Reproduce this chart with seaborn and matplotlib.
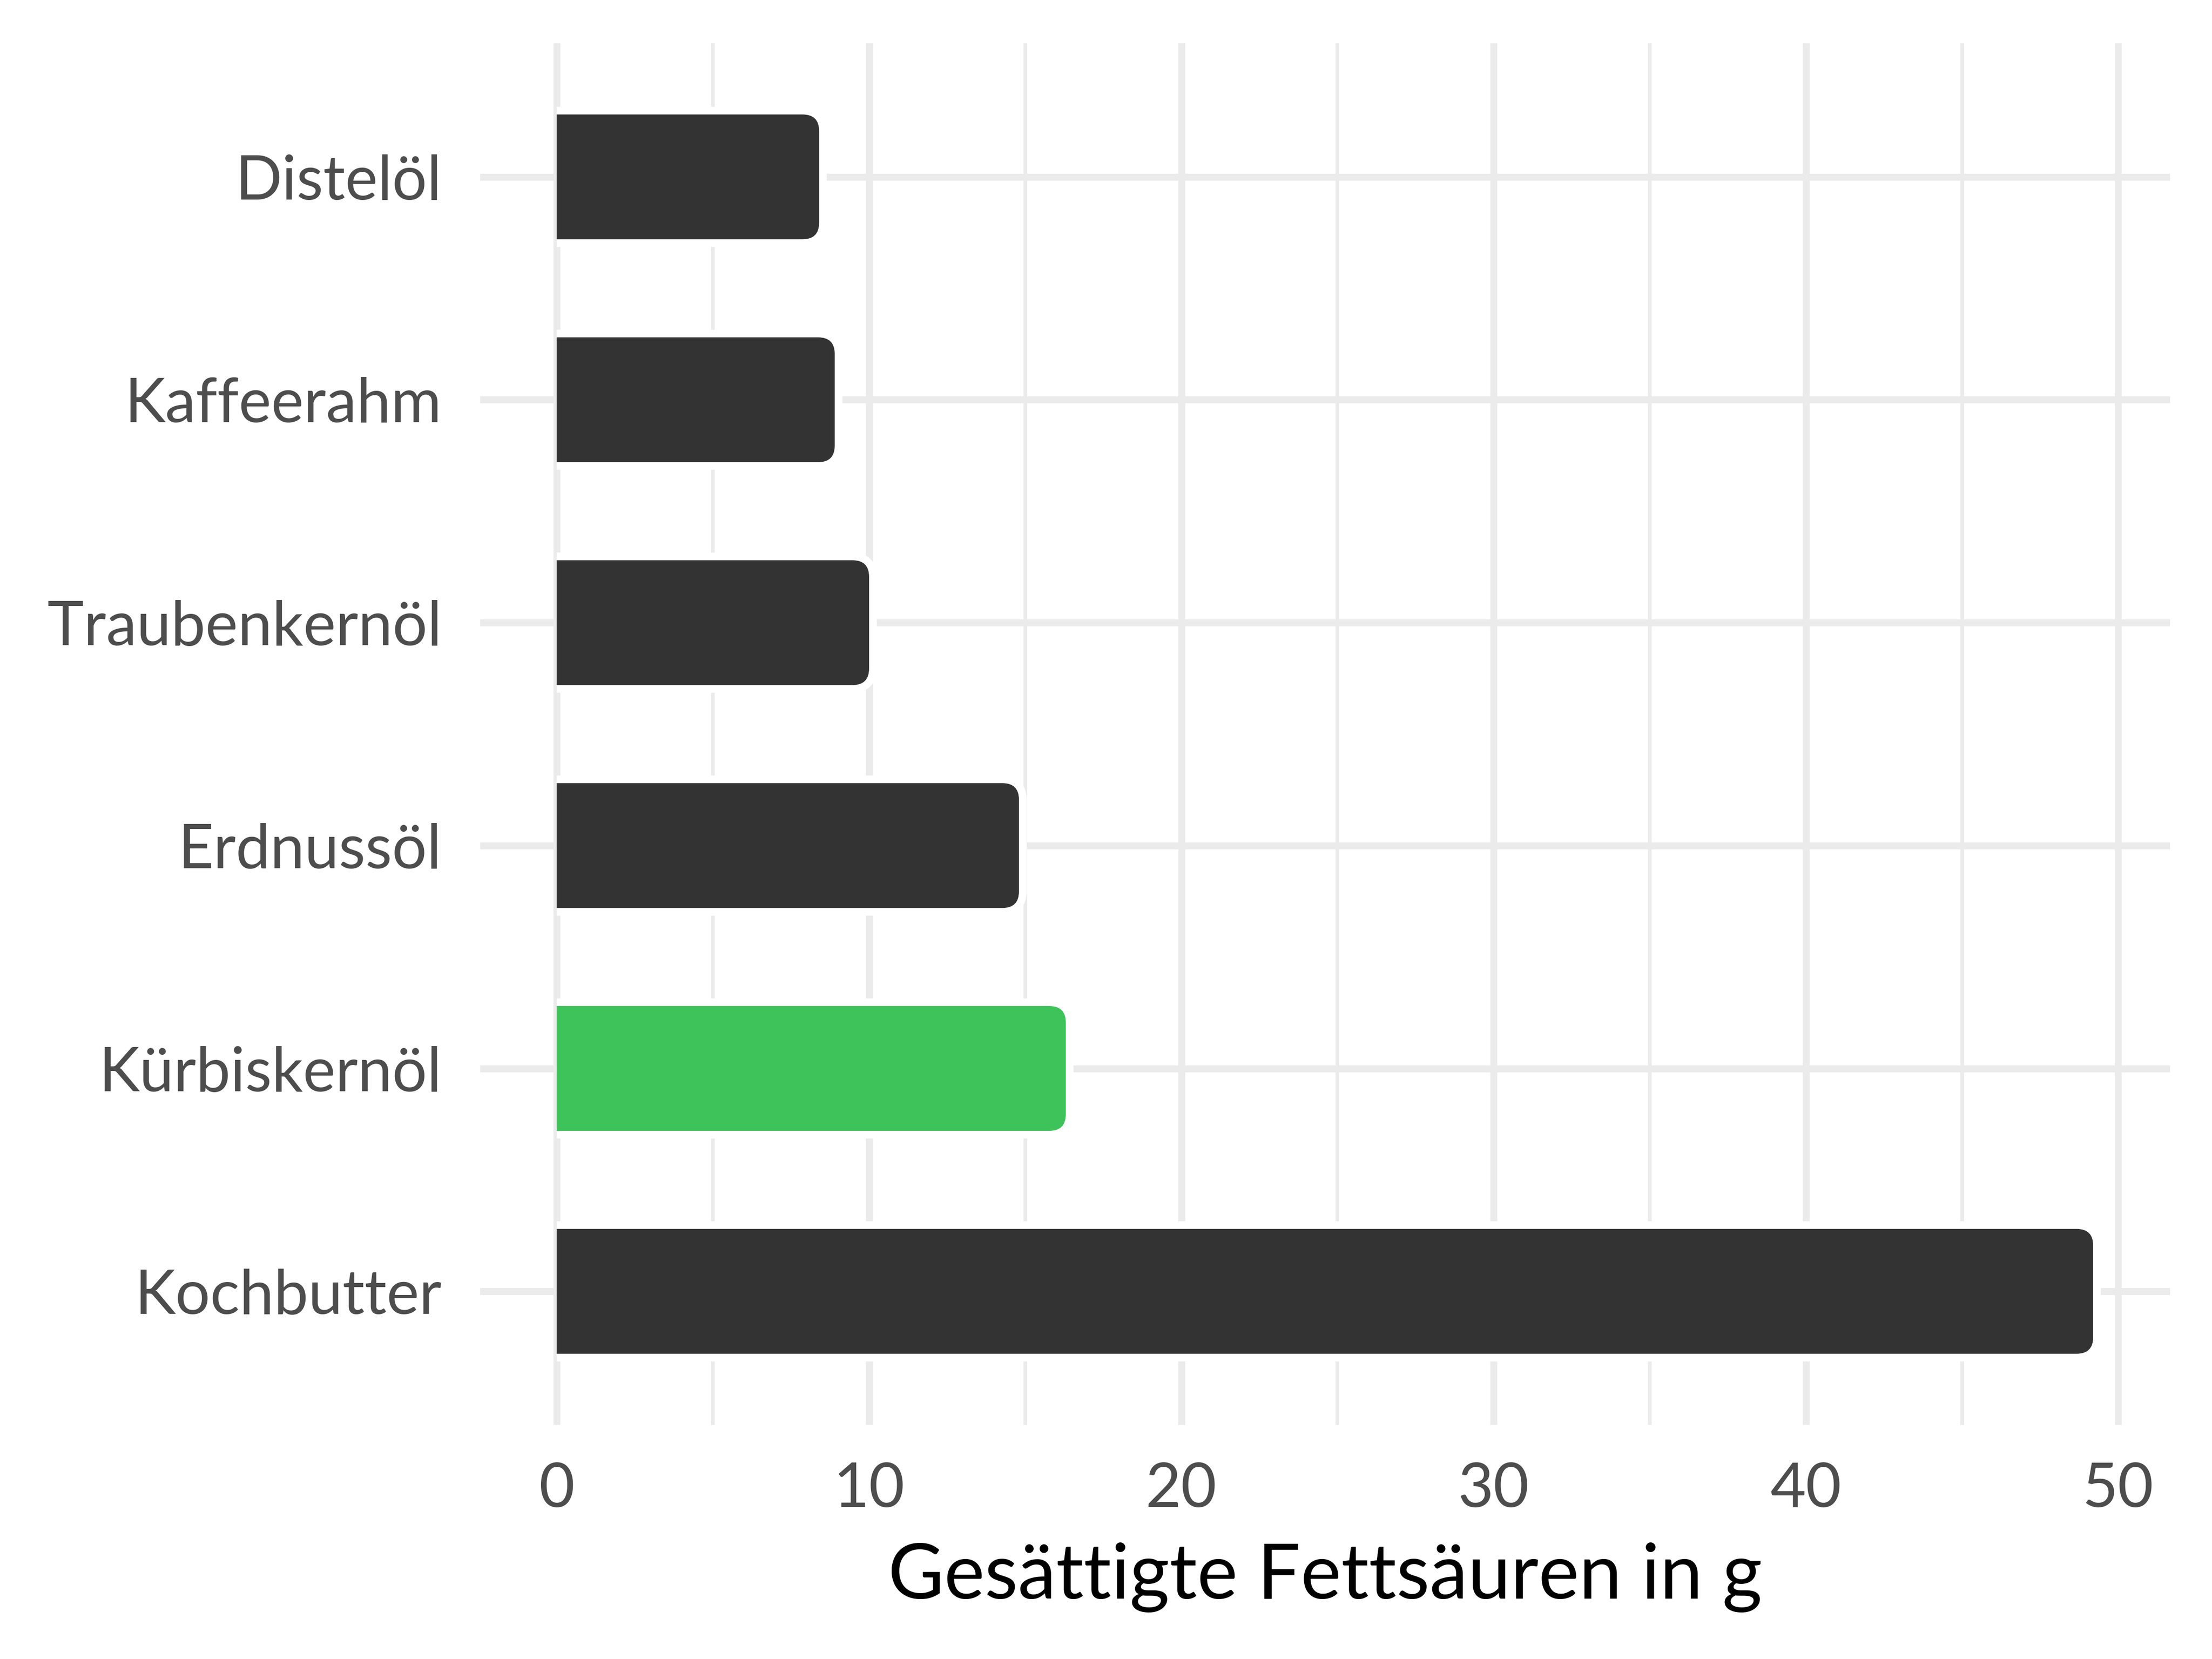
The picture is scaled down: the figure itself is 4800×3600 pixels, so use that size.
import matplotlib
matplotlib.use('Agg')
import matplotlib.pyplot as plt
import matplotlib.patheffects as pe
from matplotlib.patches import FancyBboxPatch, Rectangle
import seaborn as sns
import pandas as pd

# Daten (von oben nach unten)
lebensmittel = ['Distelöl', 'Kaffeerahm', 'Traubenkernöl', 'Erdnussöl', 'Kürbiskernöl', 'Kochbutter']
fettsaeuren = [8.4, 8.9, 10.0, 14.8, 16.3, 49.2]
farben = ['#333333', '#333333', '#333333', '#333333', '#3EC35A', '#333333']
x_ticks = [0, 10, 20, 30, 40, 50]
x_minor = [5, 15, 25, 35, 45]

df = pd.DataFrame({'name': lebensmittel, 'wert': fettsaeuren})

sns.set_theme(style='white')
plt.rcParams['font.family'] = ['Lato', 'DejaVu Sans']

fig = plt.figure(figsize=(16, 12), dpi=300)
ax = fig.add_axes([0.217, 0.141, 0.764, 0.833])

sns.barplot(data=df, y='name', x='wert', hue='name', palette=farben, legend=False,
            width=0.56, saturation=1, ax=ax)

# Achsen / Gitter im ggplot-minimal-Stil
ax.set_xlim(-2.46, 51.66)
ax.set_ylim(5.6, -0.6)
ax.set_xticks(x_ticks)
ax.set_xticks(x_minor, minor=True)
ax.set_axisbelow(True)
ax.grid(which='major', color='#EBEBEB', linewidth=3.6)
ax.grid(which='minor', axis='x', color='#EBEBEB', linewidth=1.9)
for s in ax.spines.values():
    s.set_visible(False)
ax.tick_params(axis='both', which='both', length=0, labelsize=32, labelcolor='#4D4D4D')
ax.tick_params(axis='y', pad=20)
ax.tick_params(axis='x', pad=19)
ax.set_ylabel('')
ax.set_xlabel('Gesättigte Fettsäuren in g', fontsize=40, color='black', labelpad=13)

# Balken mit abgerundeten Enden und weissem Rand ersetzen
fig.canvas.draw()
bb = ax.get_window_extent()
px = bb.width / (ax.get_xlim()[1] - ax.get_xlim()[0])
py = bb.height / abs(ax.get_ylim()[1] - ax.get_ylim()[0])
r = 36 / px
clip = Rectangle((0, -1), 100, 10, transform=ax.transData)
for p in list(ax.patches):
    x0, y0, w, h = p.get_x(), p.get_y(), p.get_width(), p.get_height()
    fc = p.get_facecolor()
    p.set_visible(False)
    rb = FancyBboxPatch((x0 - r, y0), w + r, h,
                        boxstyle=f'round,pad=0,rounding_size={r}',
                        mutation_aspect=px / py,
                        facecolor=fc, edgecolor='none', zorder=3)
    rb.set_path_effects([pe.Stroke(linewidth=8, foreground='white'), pe.Normal()])
    ax.add_patch(rb)
    rb.set_clip_path(clip)

fig.savefig('out.png', dpi=300, facecolor='white')
